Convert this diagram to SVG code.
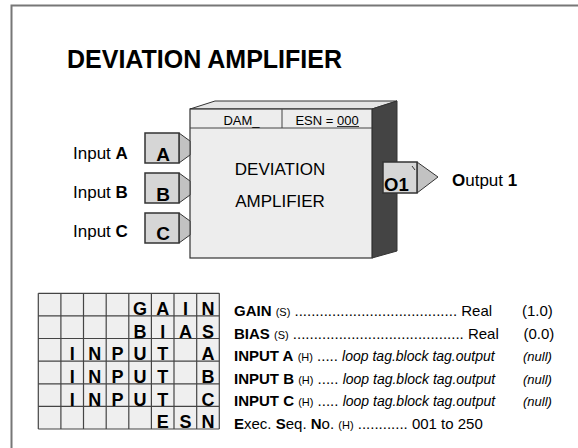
<svg xmlns="http://www.w3.org/2000/svg" width="578" height="448" viewBox="0 0 578 448">
<style>
.t{font-family:"Liberation Sans",Arial,sans-serif;fill:#000}
.b{font-weight:bold}
.i{font-style:italic}
.sm{font-size:11px}
.lbl{font-size:17px}
.box{fill:#d6d6d6;stroke:#333;stroke-width:1.5}
.wedge{fill:#c2c2c2;stroke:#333;stroke-width:1}
.gl{stroke:#444;stroke-width:1.2}
.gx{font-size:18px;font-weight:bold;text-anchor:middle}
.r{font-size:15px}
.it{font-style:italic;font-size:14px}
.nl{font-style:italic;font-size:13px}
</style>
<rect width="578" height="448" fill="#fff"/>
<path d="M11.5,448 V5.5 H578" fill="none" stroke="#777" stroke-width="2"/>
<text class="t b" x="67" y="68" font-size="25">DEVIATION AMPLIFIER</text>

<g id="connectors"></g>

<g id="block">
  <polygon points="190,109 215,101 397,101 372,109" fill="#e4e4e4" stroke="#333" stroke-width="1"/>
  <polygon points="372,109 397,101 397,251 372,258" fill="#444" stroke="#333" stroke-width="1"/>
  <rect x="190" y="109" width="182" height="149" fill="#ededed" stroke="#333" stroke-width="1.2"/>
  <line x1="190" y1="128" x2="372" y2="128" stroke="#444" stroke-width="1"/>
  <line x1="282" y1="109" x2="282" y2="128" stroke="#444" stroke-width="1"/>
  <text class="t" x="241.5" y="125" font-size="13" text-anchor="middle">DAM_</text>
  <text class="t" x="327" y="124.5" font-size="13" text-anchor="middle">ESN = 000</text>
  <line x1="337" y1="126.5" x2="359" y2="126.5" stroke="#000" stroke-width="0.8"/>
  <text class="t" x="280" y="175" font-size="17" text-anchor="middle">DEVIATION</text>
  <text class="t" x="280" y="207" font-size="17" text-anchor="middle">AMPLIFIER</text>
</g>

<g id="inputA">
  <polygon class="wedge" points="179,133 190,141 190,155 179,163"/>
  <rect class="box" x="145" y="133" width="34" height="30"/>
  <text class="t b" x="163" y="160.5" font-size="19" text-anchor="middle">A</text>
  <text class="t lbl" x="73" y="158.5">Input <tspan class="b">A</tspan></text>
</g>
<g id="inputB">
  <polygon class="wedge" points="179,173 190,181 190,195 179,203"/>
  <rect class="box" x="145" y="173" width="34" height="30"/>
  <text class="t b" x="163" y="200.5" font-size="19" text-anchor="middle">B</text>
  <text class="t lbl" x="73" y="198">Input <tspan class="b">B</tspan></text>
</g>
<g id="inputC">
  <polygon class="wedge" points="179,213 190,221 190,235 179,243"/>
  <rect class="box" x="145" y="213" width="34" height="30"/>
  <text class="t b" x="163" y="240" font-size="19" text-anchor="middle">C</text>
  <text class="t lbl" x="73" y="237">Input <tspan class="b">C</tspan></text>
</g>

<g id="output1">
  <polygon class="wedge" points="417,162 438,177 417,193"/>
  <rect class="box" x="383" y="162" width="34" height="31"/>
  <line x1="412" y1="166" x2="415" y2="170" stroke="#333" stroke-width="1"/>
  <text class="t b" x="384" y="190.5" font-size="18.5">O1</text>
  <text class="t lbl" x="452" y="186"><tspan class="b">O</tspan>utput <tspan class="b">1</tspan></text>
</g>

<g id="table">
  <rect x="38.3" y="293.3" width="181" height="135.7" fill="#efefef"/>
  <g class="gl">
    <line x1="38.3" y1="293.3" x2="38.3" y2="429"/>
    <line x1="60.9" y1="293.3" x2="60.9" y2="429"/>
    <line x1="83.5" y1="293.3" x2="83.5" y2="429"/>
    <line x1="106.2" y1="293.3" x2="106.2" y2="429"/>
    <line x1="128.8" y1="293.3" x2="128.8" y2="429"/>
    <line x1="151.4" y1="293.3" x2="151.4" y2="429"/>
    <line x1="174" y1="293.3" x2="174" y2="429"/>
    <line x1="196.7" y1="293.3" x2="196.7" y2="429"/>
    <line x1="219.3" y1="293.3" x2="219.3" y2="429"/>
    <line x1="38.3" y1="293.3" x2="219.3" y2="293.3"/>
    <line x1="38.3" y1="315.9" x2="219.3" y2="315.9"/>
    <line x1="38.3" y1="338.5" x2="219.3" y2="338.5"/>
    <line x1="38.3" y1="361.2" x2="219.3" y2="361.2"/>
    <line x1="38.3" y1="383.8" x2="219.3" y2="383.8"/>
    <line x1="38.3" y1="406.4" x2="219.3" y2="406.4"/>
    <line x1="38.3" y1="429" x2="219.3" y2="429"/>
  </g>
  <g class="t gx">
    <text x="140.1" y="315">G</text><text x="162.7" y="315">A</text><text x="185.4" y="315">I</text><text x="208" y="315">N</text>
    <text x="140.1" y="337.6">B</text><text x="162.7" y="337.6">I</text><text x="185.4" y="337.6">A</text><text x="208" y="337.6">S</text>
    <text x="72.2" y="360.3">I</text><text x="94.8" y="360.3">N</text><text x="117.5" y="360.3">P</text><text x="140.1" y="360.3">U</text><text x="162.7" y="360.3">T</text><text x="208" y="360.3">A</text>
    <text x="72.2" y="382.9">I</text><text x="94.8" y="382.9">N</text><text x="117.5" y="382.9">P</text><text x="140.1" y="382.9">U</text><text x="162.7" y="382.9">T</text><text x="208" y="382.9">B</text>
    <text x="72.2" y="405.5">I</text><text x="94.8" y="405.5">N</text><text x="117.5" y="405.5">P</text><text x="140.1" y="405.5">U</text><text x="162.7" y="405.5">T</text><text x="208" y="405.5">C</text>
    <text x="162.7" y="428.2">E</text><text x="185.4" y="428.2">S</text><text x="208" y="428.2">N</text>
  </g>
  <g class="t r">
    <text x="234" y="316"><tspan class="b">GAIN</tspan> <tspan class="sm">(S)</tspan> ....................................... Real</text>
    <text x="522" y="316">(1.0)</text>
    <text x="234" y="338.5"><tspan class="b">BIAS</tspan> <tspan class="sm">(S)</tspan> ......................................... Real</text>
    <text x="523.5" y="338.5">(0.0)</text>
    <text x="234" y="361"><tspan class="b">INPUT A</tspan> <tspan class="sm">(H)</tspan> ..... <tspan class="it">loop tag.block tag.output</tspan></text>
    <text x="523" y="361" class="nl">(null)</text>
    <text x="234" y="383.5"><tspan class="b">INPUT B</tspan> <tspan class="sm">(H)</tspan> ..... <tspan class="it">loop tag.block tag.output</tspan></text>
    <text x="523" y="383.5" class="nl">(null)</text>
    <text x="234" y="406"><tspan class="b">INPUT C</tspan> <tspan class="sm">(H)</tspan> ..... <tspan class="it">loop tag.block tag.output</tspan></text>
    <text x="523" y="406" class="nl">(null)</text>
    <text x="234" y="428.5"><tspan class="b">E</tspan>xec. <tspan class="b">S</tspan>eq. <tspan class="b">N</tspan>o. <tspan class="sm">(H)</tspan> ............ 001 to 250</text>
  </g>
</g>
</svg>
